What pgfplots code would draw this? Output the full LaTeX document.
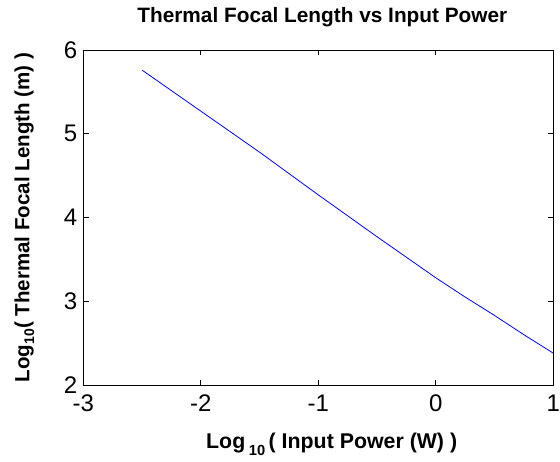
\documentclass[border=0pt]{standalone}
\usepackage{fontspec}
\setmainfont{Liberation Sans}
\usepackage{pgfplots}
\pgfplotsset{compat=1.18}
\begin{document}
\begin{tikzpicture}[x=1pt,y=1pt]
\path[use as bounding box] (-62.5,-57) rectangle (357.5,288.75);
\begin{axis}[
  at={(0,0)}, anchor=south west,
  scale only axis, width=352.5pt, height=251.25pt,
  xmin=-3, xmax=1, ymin=2, ymax=6,
  xtick={-3,-2,-1,0,1}, ytick={2,3,4,5,6},
  tick align=inside, major tick length=4pt,
  axis line style={black, line width=0.6pt},
  every tick/.style={black, line width=0.6pt},
  /pgf/number format/assume math mode=true,
  tick label style={font=\fontsize{18}{20}\selectfont},
  xticklabel style={yshift=-4pt},
  yticklabel style={xshift=-1pt},
  title={\bfseries Thermal Focal Length vs Input Power},
  title style={font=\fontsize{15.6}{17}\selectfont, at={(axis description cs:0.5,1)},
    anchor=center, yshift=18.75pt, xshift=3pt},
  xlabel={\bfseries Log\,\raisebox{-0.6ex}{\fontsize{11}{12}\selectfont 10}\,( Input Power (W) )},
  xlabel style={font=\fontsize{16}{18}\selectfont, at={(axis description cs:0.5,-0.176)},
    anchor=center, xshift=10pt},
  ylabel={\bfseries Log\raisebox{-0.45ex}{\fontsize{10.5}{11}\selectfont 10}( Thermal Focal Length (m) )},
  ylabel style={font=\fontsize{15.4}{17}\selectfont, at={(axis description cs:-0.1255,0.5)},
    anchor=center},
]
\addplot[blue, line width=0.6pt] coordinates {
  (-2.5,5.76) (-2.25,5.515) (-2,5.27) (-1.75,5.025) (-1.5,4.78) (-1.25,4.525)
  (-1,4.27) (-0.75,4.02) (-0.5,3.77) (-0.25,3.525) (0,3.28) (0.25,3.05)
  (0.5,2.83) (0.75,2.60) (1,2.38)
};
\end{axis}
\end{tikzpicture}
\end{document}
